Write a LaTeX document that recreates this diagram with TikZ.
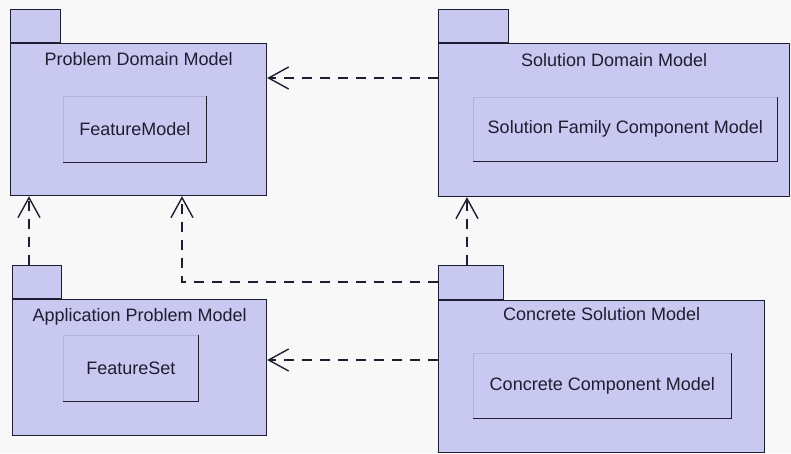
\documentclass[tikz,border=0pt]{standalone}
\usepackage{fontspec}
\setmainfont{Liberation Sans}
\usetikzlibrary{positioning,arrows.meta}
\definecolor{pkgfill}{RGB}{200,200,240}
\definecolor{pkgline}{RGB}{30,30,50}
\definecolor{paper}{RGB}{248,248,248}
\definecolor{faint}{RGB}{178,178,218}

\begin{document}
\begin{tikzpicture}[x=1pt,y=-1pt,>={Straight Barb[length=20pt,width=22pt]},
    pkg/.style={draw=pkgline,fill=pkgfill,line width=1.2pt,anchor=north west,inner sep=0pt},
    tab/.style={draw=pkgline,fill=pkgfill,line width=1.2pt,inner sep=0pt,minimum height=33pt},
    title/.style={font=\fontsize{18}{21}\selectfont,text=pkgline,inner sep=0pt},
    part/.style={draw=faint,fill=pkgfill,line width=0.6pt,anchor=north west,inner sep=0pt,
      font=\fontsize{18}{21}\selectfont,text=pkgline},
    dep/.style={->,dash pattern=on 10pt off 8pt,line width=1.4pt,draw=pkgline}]
        \useasboundingbox (0,0) rectangle (791,453);
        \fill[paper] (0,0) rectangle (791,453);

        % packages
        \node[pkg,minimum width=256pt,minimum height=152pt] (pdm) at (10,43) {};
        \node[tab,minimum width=50pt,above right=0pt of pdm.north west] (pdm_tab) {};
        \node[title,below=9pt of pdm.north] (pdm_title) {Problem Domain Model};
        \node[part,minimum width=143pt,minimum height=66pt] (fm) at (63,96) {FeatureModel};

        \node[pkg,minimum width=351pt,minimum height=153pt] (sdm) at (438,43) {};
        \node[tab,minimum width=70pt,above right=0pt of sdm.north west] (sdm_tab) {};
        \node[title,below=10pt of sdm.north] (sdm_title) {Solution Domain Model};
        \node[part,minimum width=304pt,minimum height=64pt] (sfcm) at (473,97) {Solution Family Component Model};

        \node[pkg,minimum width=254pt,minimum height=136pt] (apm) at (12,299) {};
        \node[tab,minimum width=49pt,above right=0pt of apm.north west] (apm_tab) {};
        \node[title,below=9pt of apm.north] (apm_title) {Application Problem Model};
        \node[part,minimum width=135pt,minimum height=66pt] (fs) at (63,335) {FeatureSet};

        \node[pkg,minimum width=326pt,minimum height=152pt] (csm) at (438,300) {};
        \node[tab,minimum width=65pt,minimum height=34pt,above right=0pt of csm.north west] (csm_tab) {};
        \node[title,below=7pt of csm.north] (csm_title) {Concrete Solution Model};
        \node[part,minimum width=258pt,minimum height=65pt] (ccm) at (473,353) {Concrete Component Model};

        % shadow edges of the inner boxes
        \foreach \p in {fm,sfcm,fs,ccm}
          \draw[pkgline,line width=1.4pt] (\p.south west) -- (\p.south east) -- (\p.north east);

        % dependencies
        \draw[dep] ([yshift=-35pt]sdm.north west) -- ([yshift=-35pt]pdm.north east);
        \draw[dep] ([xshift=17pt]apm_tab.north west) -- ([xshift=19pt]pdm.south west);
        \draw[dep] ([yshift=-17pt]csm_tab.north west) -| ([xshift=172pt]pdm.south west);
        \draw[dep] ([xshift=29pt]csm_tab.north west) -- ([xshift=29pt]sdm.south west);
        \draw[dep] ([yshift=-60pt]csm.north west) -- ([yshift=-61pt]apm.north east);
\end{tikzpicture}
\end{document}
